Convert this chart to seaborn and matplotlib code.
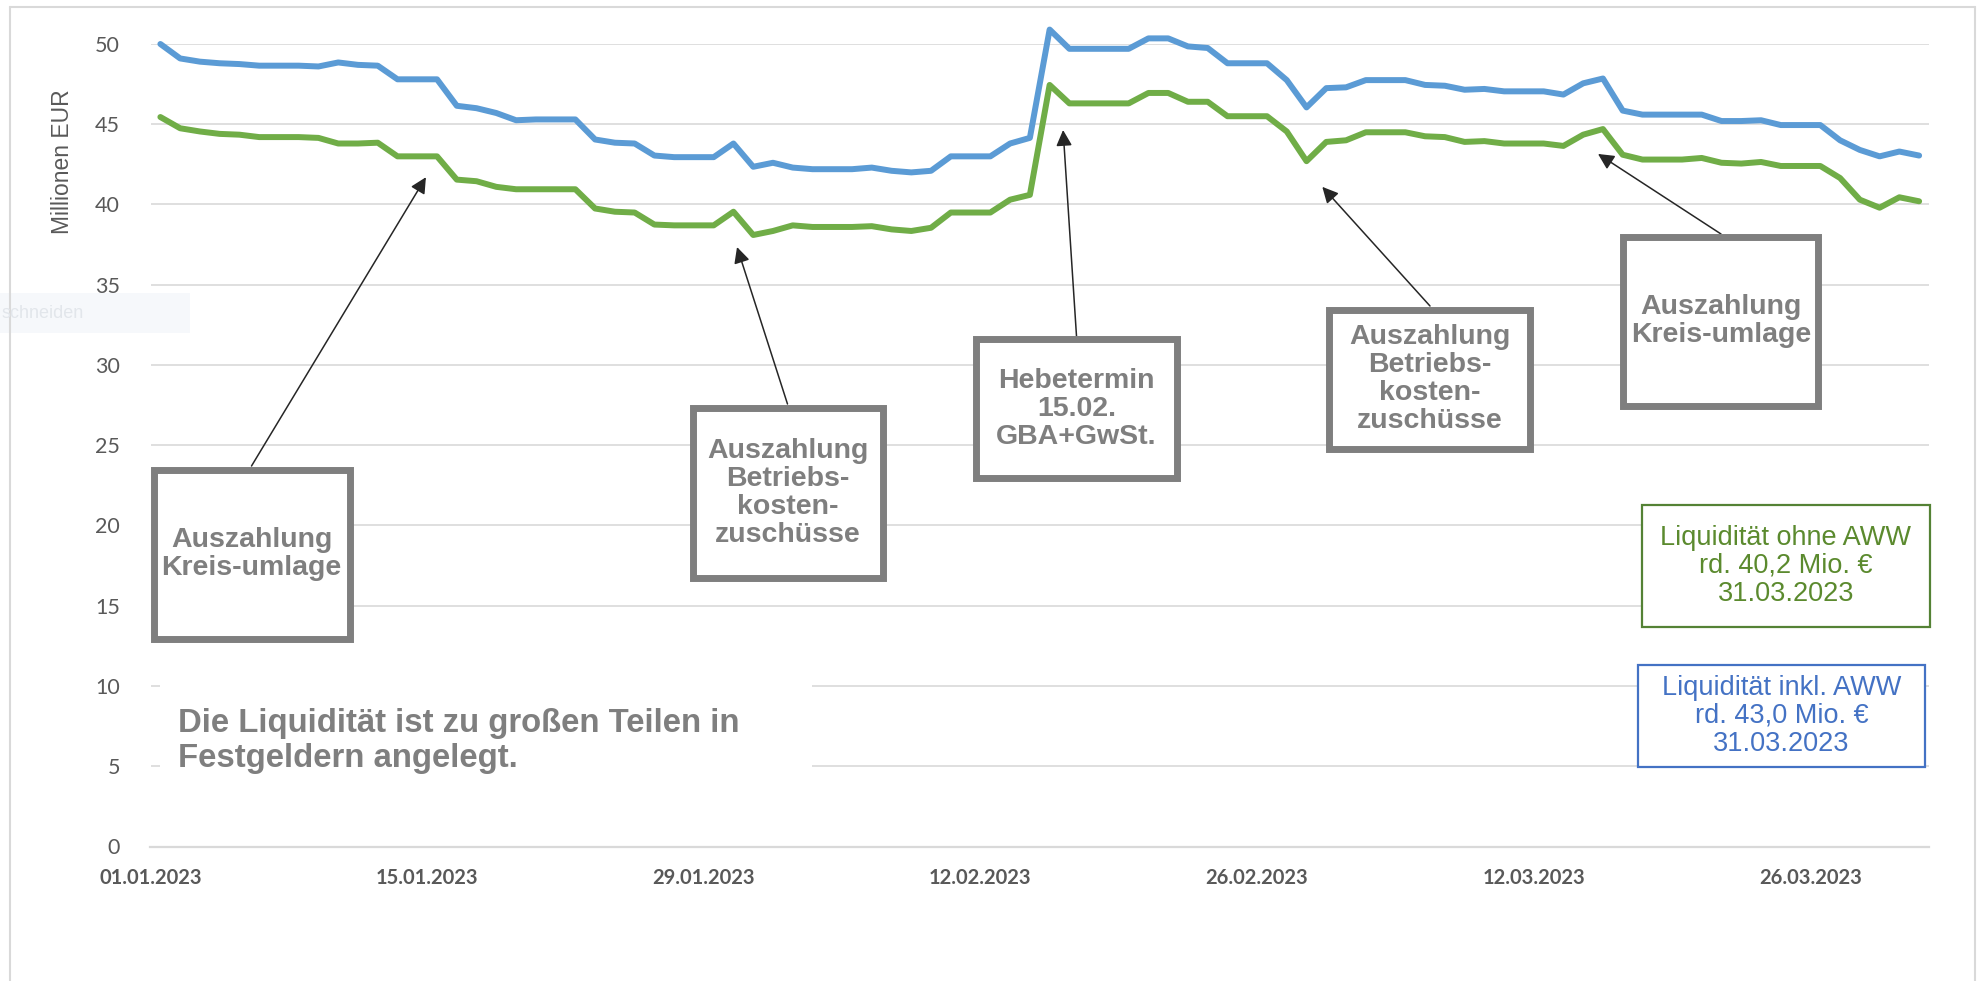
import pandas as pd
import seaborn as sns
import matplotlib
matplotlib.use("Agg")
import matplotlib.pyplot as plt
import matplotlib.dates as mdates
from matplotlib.patches import Rectangle
from matplotlib.lines import Line2D

# daily values, 01.01.2023 - 31.03.2023 (Mio. EUR)
inkl_aww = [50.0, 49.1, 48.9, 48.8, 48.75, 48.65, 48.65, 48.65, 48.6, 48.85,
            48.7, 48.65, 47.8, 47.8, 47.8, 46.15, 46.0, 45.7, 45.25, 45.3,
            45.3, 45.3, 44.05, 43.85, 43.8, 43.05, 42.95, 42.95, 42.95, 43.8,
            42.35, 42.6, 42.3, 42.2, 42.2, 42.2, 42.3, 42.1, 42.0, 42.1,
            43.0, 43.0, 43.0, 43.8, 44.15, 50.9, 49.7, 49.7, 49.7, 49.7,
            50.35, 50.35, 49.85, 49.75, 48.8, 48.8, 48.8, 47.75, 46.05, 47.25,
            47.3, 47.75, 47.75, 47.75, 47.45, 47.4, 47.15, 47.2, 47.05, 47.05,
            47.05, 46.85, 47.55, 47.85, 45.85, 45.6, 45.6, 45.6, 45.6, 45.2,
            45.2, 45.25, 44.95, 44.95, 44.95, 44.0, 43.4, 43.0, 43.3, 43.05]
ohne_aww = [45.45, 44.75, 44.55, 44.4, 44.35, 44.2, 44.2, 44.2, 44.15, 43.8,
            43.8, 43.85, 43.0, 43.0, 43.0, 41.55, 41.45, 41.1, 40.95, 40.95,
            40.95, 40.95, 39.75, 39.55, 39.5, 38.75, 38.7, 38.7, 38.7, 39.55,
            38.1, 38.35, 38.7, 38.6, 38.6, 38.6, 38.65, 38.45, 38.35, 38.55,
            39.5, 39.5, 39.5, 40.3, 40.6, 47.45, 46.3, 46.3, 46.3, 46.3,
            46.95, 46.95, 46.4, 46.4, 45.5, 45.5, 45.5, 44.55, 42.7, 43.9,
            44.0, 44.5, 44.5, 44.5, 44.25, 44.2, 43.9, 43.95, 43.8, 43.8,
            43.8, 43.65, 44.35, 44.7, 43.1, 42.8, 42.8, 42.8, 42.9, 42.6,
            42.55, 42.65, 42.4, 42.4, 42.4, 41.65, 40.3, 39.8, 40.45, 40.2]
tick_dates = ["2023-01-01", "2023-01-15", "2023-01-29", "2023-02-12",
              "2023-02-26", "2023-03-12", "2023-03-26"]
y_ticks = [0, 5, 10, 15, 20, 25, 30, 35, 40, 45, 50]

# (label, arrow head date, arrow head value, box left, top, right, bottom in px)
notes = [
    ("Auszahlung\nKreis-umlage", "2023-01-14 22:30", 41.7, 150, 466, 353, 642),
    ("Auszahlung\nBetriebs-\nkosten-\nzuschüsse", "2023-01-30 16:20", 37.35, 689, 404, 886, 581),
    ("Hebetermin\n15.02.\nGBA+GwSt.", "2023-02-16 04:20", 44.64, 973, 336, 1180, 482),
    ("Auszahlung\nBetriebs-\nkosten-\nzuschüsse", "2023-03-01 07:10", 41.1, 1326, 306, 1534, 452),
    ("Auszahlung\nKreis-umlage", "2023-03-15 06:00", 43.15, 1620, 234, 1822, 409),
]

dates = pd.date_range("2023-01-01", "2023-03-31", freq="D") + pd.Timedelta(hours=12)
df = pd.DataFrame({"Datum": list(dates) * 2,
                   "Wert": inkl_aww + ohne_aww,
                   "Reihe": ["inkl. AWW"] * len(dates) + ["ohne AWW"] * len(dates)})

sns.set_style("white")
plt.rcParams["font.family"] = ["Liberation Sans", "DejaVu Sans"]

W, H = 1983, 981
fx = lambda x: x / W
fy = lambda y: 1 - y / H

fig = plt.figure(figsize=(W / 100, H / 100), dpi=100)
ax = fig.add_axes([fx(150.5), fy(846.5), (1929 - 150.5) / W, (846.5 - 44) / H])

sns.lineplot(data=df, x="Datum", y="Wert", hue="Reihe",
             palette={"inkl. AWW": "#5B9BD5", "ohne AWW": "#70AD47"},
             linewidth=4.3, legend=False, ax=ax, clip_on=False,
             solid_capstyle="round", solid_joinstyle="round")

ax.set_xlim(pd.Timestamp("2023-01-01"), pd.Timestamp("2023-04-01"))
ax.set_ylim(0, 50)
ax.set_xticks(pd.to_datetime(tick_dates))
ax.xaxis.set_major_formatter(mdates.DateFormatter("%d.%m.%Y"))
ax.set_yticks(y_ticks)
ax.set_xlabel("")
ax.set_ylabel("")
ax.yaxis.grid(True, color="#D9D9D9", linewidth=1.2)
ax.set_axisbelow(True)
for s in ["top", "right", "left"]:
    ax.spines[s].set_visible(False)
ax.spines["bottom"].set_color("#D9D9D9")
ax.spines["bottom"].set_linewidth(1.6)
ax.tick_params(axis="x", length=6.5, width=1.2, color="#D9D9D9", pad=9,
               labelsize=14.5, labelcolor="#595959")
ax.tick_params(axis="y", length=0, pad=22, labelsize=15.5, labelcolor="#595959")
for lab in ax.get_xticklabels() + ax.get_yticklabels():
    lab.set_family(["Lato", "DejaVu Sans"])
for lab in ax.get_xticklabels():
    lab.set_fontweight("bold")

fig.text(fx(63), fy(162), "Millionen EUR", rotation=90, ha="center", va="center",
         fontsize=16.5, color="#595959")

# outer chart frame
for xs, ys in [([10, 10], [7, 990]), ([10, 1975], [7, 7]), ([1975, 1975], [7, 990])]:
    fig.add_artist(Line2D([fx(v) for v in xs], [fy(v) for v in ys], color="#D9D9D9", lw=1.5))

# faint context-menu remnant
fig.add_artist(Rectangle((0, fy(333)), 190 / W, 40 / H, facecolor="#F6F8FB", edgecolor="none"))
fig.text(fx(1), fy(313), "schneiden", fontsize=13, color="#E2E6EB", va="center")

for text, hd, hv, x0, y0, x1, y1 in notes:
    bw = 3.5
    fig.add_artist(Rectangle((fx(x0 + bw), fy(y1 - bw)), (x1 - x0 - 2 * bw) / W,
                             (y1 - y0 - 2 * bw) / H, facecolor="white",
                             edgecolor="#7F7F7F", lw=5, zorder=2))
    fig.text(fx((x0 + x1) / 2), fy((y0 + y1) / 2), text, ha="center", va="center",
             fontsize=20.5, fontweight="bold", color="#7F7F7F", linespacing=1.1, zorder=3)
    ax.annotate("", xy=(mdates.date2num(pd.Timestamp(hd)), hv), xycoords="data",
                xytext=(fx((x0 + x1) / 2), fy(y0)), textcoords="figure fraction",
                arrowprops=dict(arrowstyle="-|>", color="#262626", lw=1.1,
                                mutation_scale=24, shrinkA=0, shrinkB=0),
                annotation_clip=False)

# note on the lower left
fig.add_artist(Rectangle((fx(160), fy(776)), (812 - 160) / W, 100 / H,
                         facecolor="white", edgecolor="none", zorder=1))
fig.text(fx(178), fy(741), "Die Liquidität ist zu großen Teilen in\nFestgeldern angelegt.",
         ha="left", va="center", fontsize=23.7, fontweight="bold", color="#7F7F7F",
         linespacing=1.15, zorder=3)

# end-of-period boxes
for text, col, edge, x0, y0, x1, y1 in [
        ("Liquidität ohne AWW\nrd. 40,2 Mio. €\n31.03.2023", "#5B8A2E", "#548235", 1642, 505, 1930, 627),
        ("Liquidität inkl. AWW\nrd. 43,0 Mio. €\n31.03.2023", "#4472C4", "#4472C4", 1638, 665, 1925, 767)]:
    fig.add_artist(Rectangle((fx(x0), fy(y1)), (x1 - x0) / W, (y1 - y0) / H,
                             facecolor="white", edgecolor=edge, lw=1.6, zorder=2))
    fig.text(fx((x0 + x1) / 2), fy((y0 + y1) / 2), text, ha="center", va="center",
             fontsize=19.5, color=col, linespacing=1.1, zorder=3)

fig.savefig("out.png", dpi=100)
